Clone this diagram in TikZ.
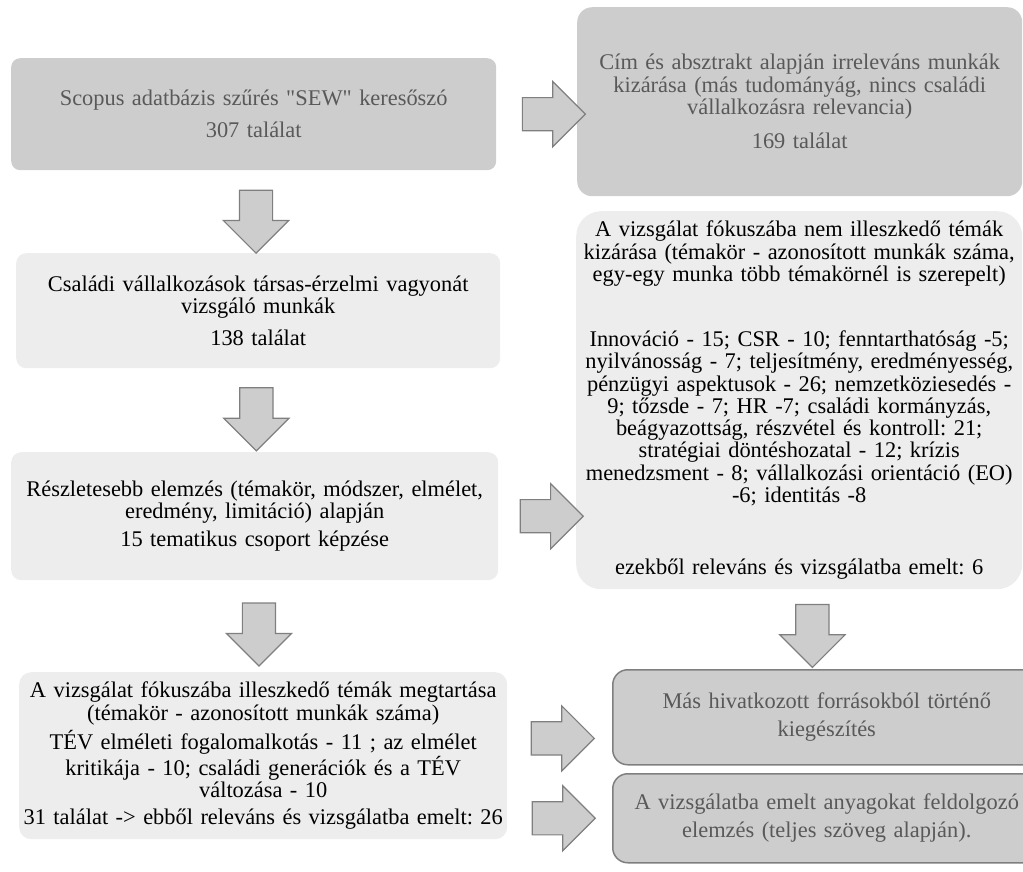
\documentclass[tikz,border=0pt]{standalone}
\usepackage{fontspec}
\setmainfont{Liberation Serif}[Ligatures=TeXOff]
\usepackage{xcolor}
\usetikzlibrary{positioning}
\usetikzlibrary{shapes.arrows}
\frenchspacing
\setlength{\lineskiplimit}{-20pt}

\definecolor{darkfill}{HTML}{CDCDCD}
\definecolor{lightfill}{HTML}{EDEDED}
\definecolor{greytext}{HTML}{595959}
\definecolor{arrowline}{HTML}{7F7F7F}

\begin{document}
\begin{tikzpicture}[
		x=1pt, y=-1pt,
		box/.style={rectangle, anchor=north west, align=center, inner sep=0pt, font=\fontsize{22.4}{22.3}\selectfont},
		darkbox/.style={box, fill=darkfill, text=greytext},
		lightbox/.style={box, fill=lightfill, text=black},
		sidebox/.style={darkbox, draw=arrowline, line width=1.5pt, rounded corners=15pt, text width=428pt, font=\fontsize{22.4}{28.5}\selectfont},
		rarrow/.style={single arrow, draw=arrowline, fill=darkfill, line width=1.2pt, inner xsep=0pt, inner ysep=16pt, single arrow head extend=16pt, single arrow head indent=0pt, minimum height=63pt},
		darrow/.style={rarrow, rotate=-90}
		]
		\useasboundingbox (0,0) rectangle (1023,871);
		
		% Left column
		\node[darkbox, rounded corners=9pt, text width=485pt, minimum height=112pt] (scopus) at (11,58)
			{Scopus adatbázis szűrés "SEW" keresőszó\\[9.7pt]307 találat};
		\node[lightbox, rounded corners=10pt, text width=484pt, minimum height=115pt] (sew) at (16,253)
			{Családi vállalkozások társas-érzelmi vagyonát\\vizsgáló munkák\\[9.7pt]138 találat};
		\node[lightbox, rounded corners=10pt, text width=487pt, minimum height=128pt] (reszlet) at (11,452)
			{Részletesebb elemzés (témakör, módszer, elmélet,\\eredmény, limitáció) alapján\\[6pt]15 tematikus csoport képzése};
		\node[lightbox, rounded corners=12pt, text width=488pt, minimum height=167pt] (megtart) at (19,672)
			{A vizsgálat fókuszába illeszkedő témák megtartása\\(témakör - azonosított munkák száma)\\[5pt]TÉV elméleti fogalomalkotás - 11 ; az elmélet\\kritikája - 10; családi generációk és a TÉV\\változása - 10\\[5pt]31 találat -> ebből releváns és vizsgálatba emelt: 26};
		
		% Right column
		\node[darkbox, rounded corners=15pt, text width=445pt, minimum height=189pt] (cimabs) at (577,7)
			{Cím és absztrakt alapján irreleváns munkák\\kizárása (más tudományág, nincs családi\\vállalkozásra relevancia)\\[12pt]169 találat};
		\node[lightbox, rounded corners=25pt, text width=446pt, minimum height=378pt] (kizaras) at (576,211)
			{A vizsgálat fókuszába nem illeszkedő témák\\kizárása (témakör - azonosított munkák száma,\\egy-egy munka több témakörnél is szerepelt)\\[42.7pt]Innováció - 15; CSR - 10; fenntarthatóság -5;\\nyilvánosság - 7; teljesítmény, eredményesség,\\pénzügyi aspektusok - 26; nemzetköziesedés -\\9; tőzsde - 7; HR -7; családi kormányzás,\\beágyazottság, részvétel és kontroll: 21;\\stratégiai döntéshozatal - 12; krízis\\menedzsment - 8; vállalkozási orientáció (EO)\\-6; identitás -8\\[49.7pt]ezekből releváns és vizsgálatba emelt: 6};
		\node[sidebox, minimum height=95pt] (kieg) at (612,669)
			{Más hivatkozott forrásokból történő\\kiegészítés};
		\node[sidebox, minimum height=89pt] (elemzes) at (612,773)
			{A vizsgálatba emelt anyagokat feldolgozó\\elemzés (teljes szöveg alapján).};
		
		% Block arrows
		\path (scopus.south) -- node[darrow, pos=0.52] (d1) {} (sew.north);
		\path (sew.south) -- node[darrow, pos=0.51] (d2) {} (reszlet.north);
		\path (reszlet.south) -- node[darrow, pos=0.5] (d3) {} (megtart.north);
		\path (kizaras.south) -- node[darrow, pos=0.48] (d4) {} (kieg.north);
		\path (scopus.east) -- node[rarrow, pos=0.61] (r1) {} (scopus.east -| cimabs.west);
		\path (reszlet.east) -- node[rarrow, pos=0.58] (r2) {} (reszlet.east -| kizaras.west);
		\path (megtart.east) -- node[rarrow, pos=0.45] (r3) {} (kieg.west);
		\path (megtart.east |- elemzes.west) -- node[rarrow, pos=0.46] (r4) {} (elemzes.west);
		
	\end{tikzpicture}
\end{document}
